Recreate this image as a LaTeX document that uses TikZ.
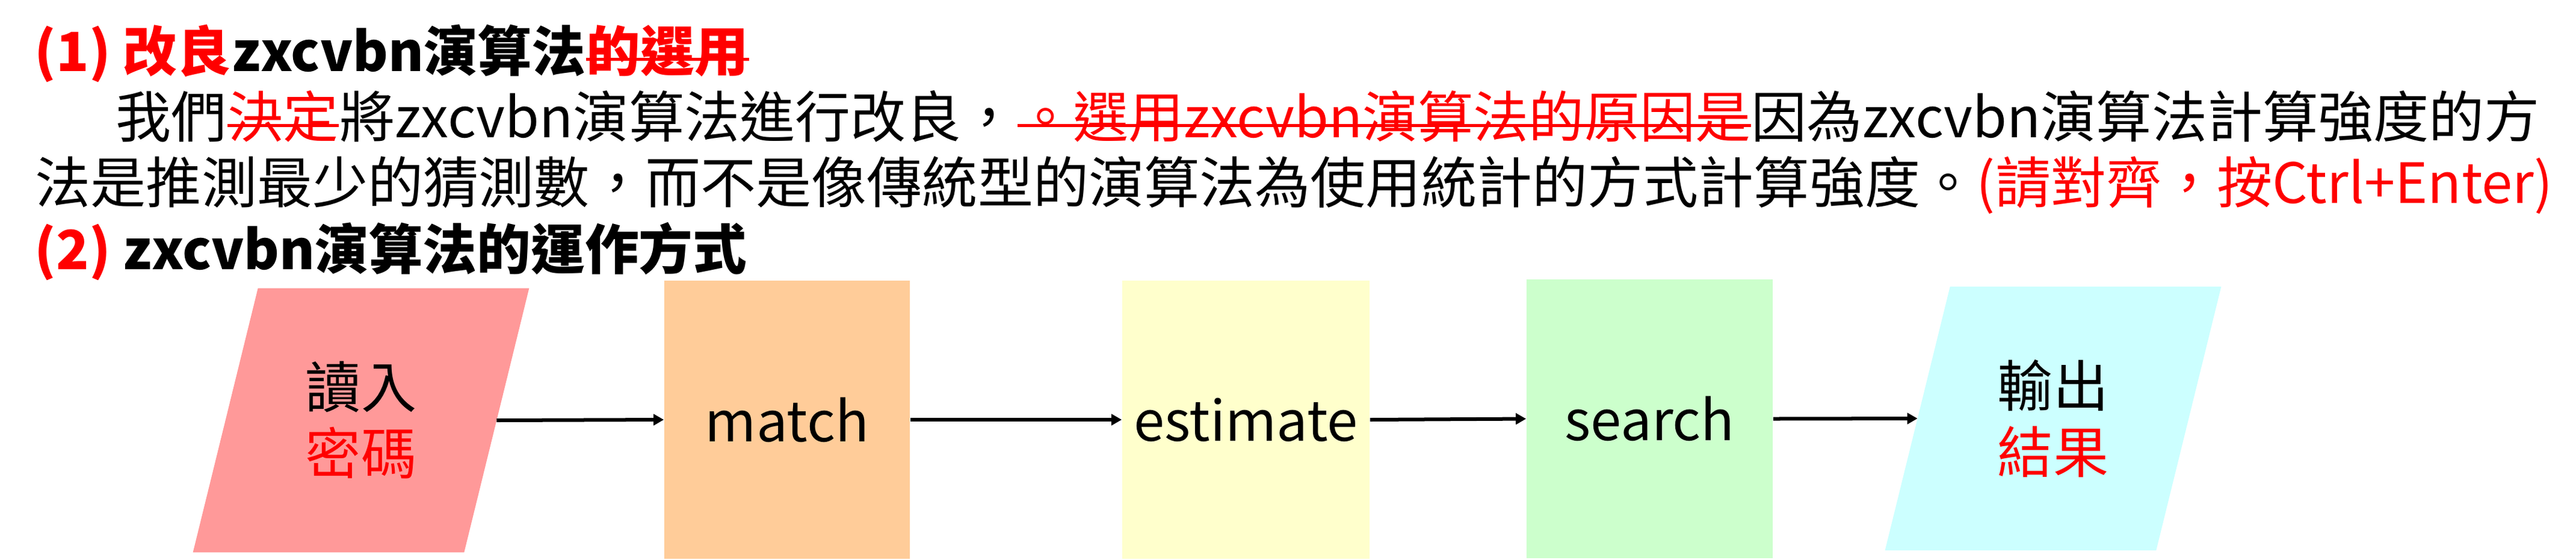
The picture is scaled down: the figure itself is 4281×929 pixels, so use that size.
\documentclass[tikz,border=0pt]{standalone}
\usepackage{fontspec}
\setmainfont{Noto Sans CJK TC}
\usetikzlibrary{arrows.meta,calc,backgrounds}
\definecolor{redtxt}{HTML}{FF0000}
\definecolor{inc}{HTML}{FF9999}
\definecolor{matchc}{HTML}{FFCC99}
\definecolor{estc}{HTML}{FFFFCC}
\definecolor{searchc}{HTML}{CCFFCC}
\definecolor{outc}{HTML}{CCFFFF}
\tikzset{
  bigfont/.style={font=\fontsize{26.2}{31.3}\selectfont},
  txtline/.style={bigfont, anchor=base west, inner sep=0pt},
  boldline/.style={font=\fontsize{25.5}{31.3}\selectfont\bfseries, anchor=base west, inner sep=0pt},
  procbox/.style={bigfont, align=center, inner sep=0pt, rectangle, minimum height=4.62cm},
  iobox/.style={bigfont, align=center, inner sep=0pt, rectangle, minimum width=4.49cm, minimum height=4.37cm},
  flow/.style={-{Triangle[length=0.17cm,width=0.18cm]}, line width=0.06cm, black},
  strikeline/.style={redtxt, line width=0.05cm}
}
\begin{document}
\begin{tikzpicture}[x=0.01cm, y=-0.01cm]
\useasboundingbox (0,0) rectangle (4281,929);

% line 1
\node[boldline, text=redtxt] (l1a) at (57,118) {(1) 改良};
\node[boldline] (l1b) at (l1a.base east) {zxcvbn演算法};
\node[boldline, text=redtxt] (l1c) at (l1b.base east) {的選用};
\draw[strikeline] ($(l1c.base west)+(0,-20)$) -- ($(l1c.base east)+(0,-20)$);

% line 2
\node[txtline] (l2a) at (192,228) {我們};
\node[txtline, text=redtxt] (l2b) at (l2a.base east) {決定};
\node[txtline] (l2c) at (l2b.base east) {將zxcvbn演算法進行改良，};
\node[txtline, text=redtxt] (l2d) at (l2c.base east) {。選用zxcvbn演算法的原因是};
\node[txtline] (l2e) at (l2d.base east) {因為zxcvbn演算法計算強度的方};
\draw[strikeline] ($(l2b.base west)+(0,-20)$) -- ($(l2b.base east)+(0,-20)$);
\draw[strikeline] ($(l2d.base west)+(0,-20)$) -- ($(l2d.base east)+(0,-20)$);

% line 3
\node[txtline] (l3a) at (58,337) {法是推測最少的猜測數，而不是像傳統型的演算法為使用統計的方式計算強度。};
\node[txtline, text=redtxt] (l3b) at (l3a.base east) {(請對齊，按Ctrl+Enter)};

% line 4
\node[boldline] (l4) at (57,447) {\textcolor{redtxt}{(2)} zxcvbn演算法的運作方式};

% flow nodes
\node[iobox] (inp) at (600,698) {讀入\\\textcolor{redtxt}{密碼}};
\node[procbox, fill=matchc, minimum width=4.08cm] (match) at (1308,697) {match};
\node[procbox, fill=estc, minimum width=4.11cm] (est) at (2070.5,697) {estimate};
\node[procbox, fill=searchc, minimum width=4.09cm, minimum height=4.63cm] (search) at (2741.5,695.5) {search};
\node[iobox, minimum height=4.36cm] (outp) at (3412,695) {輸出\\\textcolor{redtxt}{結果}};

\begin{scope}[on background layer]
  \fill[inc] ($(inp.north west)+(54,0)$) -- ($(inp.north east)+(54,0)$) -- ($(inp.south east)+(-54,0)$) -- ($(inp.south west)+(-54,0)$) -- cycle;
  \fill[outc] ($(outp.north west)+(54,0)$) -- ($(outp.north east)+(54,0)$) -- ($(outp.south east)+(-54,0)$) -- ($(outp.south west)+(-54,0)$) -- cycle;
\end{scope}

% connectors
\draw[flow] (inp.east) -- (match.west);
\draw[flow] (match.east) -- (est.west);
\draw[flow] (est.east) -- (search.west);
\draw[flow] (search.east) -- (outp.west);
\end{tikzpicture}
\end{document}
